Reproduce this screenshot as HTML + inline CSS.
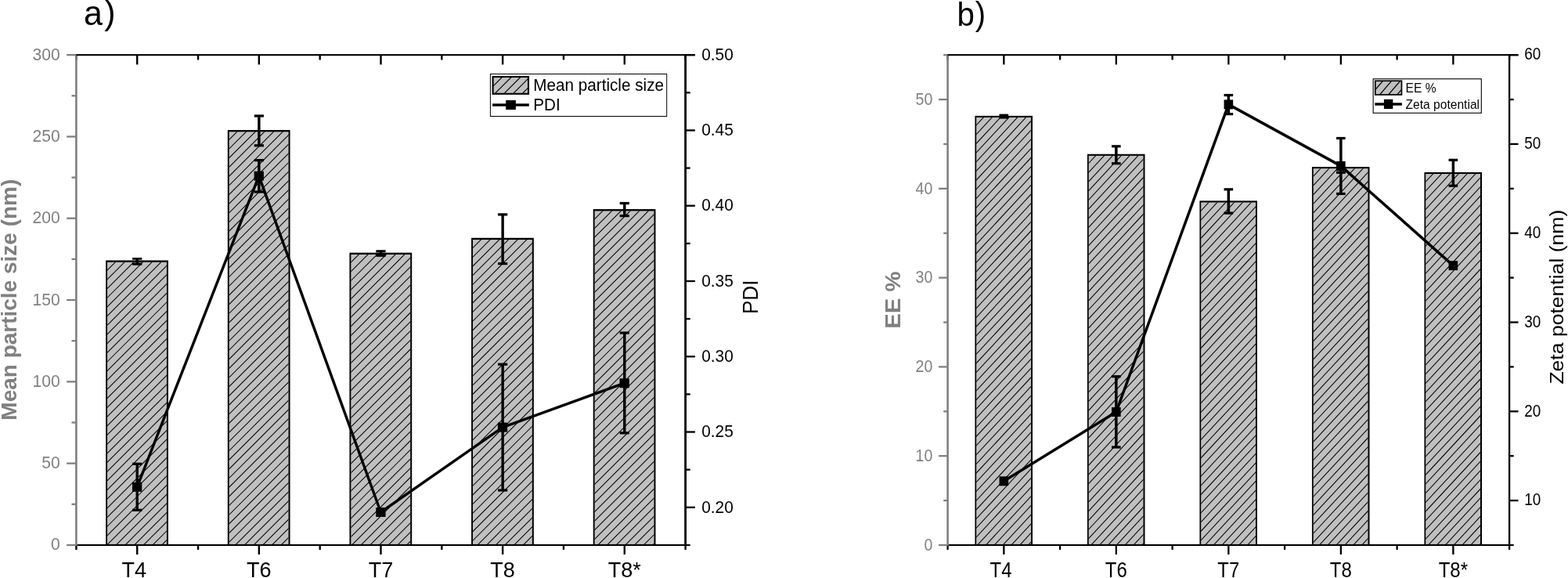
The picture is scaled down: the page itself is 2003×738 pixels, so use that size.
<!DOCTYPE html>
<html lang="en">
<head>
<meta charset="utf-8">
<title>Figure: particle size, PDI, EE % and zeta potential</title>
<style>
html,body{margin:0;padding:0;background:#ffffff;}
body{width:2003px;height:738px;overflow:hidden;}
svg{display:block;font-family:'Liberation Sans', sans-serif;}
</style>
</head>
<body>
<svg width="2003" height="738" viewBox="0 0 2003 738">
<rect x="0" y="0" width="2003" height="738" fill="#ffffff"/>
<g id="panel-a">
<rect x="135.17" y="332.45" width="79.75" height="363.5" fill="#000"/>
<rect x="137.07" y="334.75" width="75.85" height="361.2" fill="#c0c0c0"/>
<clipPath id="cha0"><rect x="137.07" y="334.75" width="75.85" height="361.2"/></clipPath>
<path clip-path="url(#cha0)" fill="none" stroke="#000" stroke-width="1.05" d="M136.07 334.33L213.92 256.48M136.07 346.01L213.92 268.16M136.07 357.69L213.92 279.84M136.07 369.37L213.92 291.52M136.07 381.05L213.92 303.2M136.07 392.73L213.92 314.88M136.07 404.41L213.92 326.56M136.07 416.09L213.92 338.24M136.07 427.77L213.92 349.92M136.07 439.45L213.92 361.6M136.07 451.13L213.92 373.28M136.07 462.81L213.92 384.96M136.07 474.49L213.92 396.64M136.07 486.17L213.92 408.32M136.07 497.85L213.92 420M136.07 509.53L213.92 431.68M136.07 521.21L213.92 443.36M136.07 532.89L213.92 455.04M136.07 544.57L213.92 466.72M136.07 556.25L213.92 478.4M136.07 567.93L213.92 490.08M136.07 579.61L213.92 501.76M136.07 591.29L213.92 513.44M136.07 602.97L213.92 525.12M136.07 614.65L213.92 536.8M136.07 626.33L213.92 548.48M136.07 638.01L213.92 560.16M136.07 649.69L213.92 571.84M136.07 661.37L213.92 583.52M136.07 673.05L213.92 595.2M136.07 684.73L213.92 606.88M136.07 696.41L213.92 618.56M136.07 708.09L213.92 630.24M136.07 719.77L213.92 641.92M136.07 731.45L213.92 653.6M136.07 743.13L213.92 665.28M136.07 754.81L213.92 676.96M136.07 766.49L213.92 688.64"/>
<rect x="290.81" y="166" width="79.75" height="529.95" fill="#000"/>
<rect x="292.71" y="168.3" width="75.85" height="527.65" fill="#c0c0c0"/>
<clipPath id="cha1"><rect x="292.71" y="168.3" width="75.85" height="527.65"/></clipPath>
<path clip-path="url(#cha1)" fill="none" stroke="#000" stroke-width="1.05" d="M291.71 167.61L369.56 89.76M291.71 179.29L369.56 101.44M291.71 190.97L369.56 113.12M291.71 202.65L369.56 124.8M291.71 214.33L369.56 136.48M291.71 226.01L369.56 148.16M291.71 237.69L369.56 159.84M291.71 249.37L369.56 171.52M291.71 261.05L369.56 183.2M291.71 272.73L369.56 194.88M291.71 284.41L369.56 206.56M291.71 296.09L369.56 218.24M291.71 307.77L369.56 229.92M291.71 319.45L369.56 241.6M291.71 331.13L369.56 253.28M291.71 342.81L369.56 264.96M291.71 354.49L369.56 276.64M291.71 366.17L369.56 288.32M291.71 377.85L369.56 300M291.71 389.53L369.56 311.68M291.71 401.21L369.56 323.36M291.71 412.89L369.56 335.04M291.71 424.57L369.56 346.72M291.71 436.25L369.56 358.4M291.71 447.93L369.56 370.08M291.71 459.61L369.56 381.76M291.71 471.29L369.56 393.44M291.71 482.97L369.56 405.12M291.71 494.65L369.56 416.8M291.71 506.33L369.56 428.48M291.71 518.01L369.56 440.16M291.71 529.69L369.56 451.84M291.71 541.37L369.56 463.52M291.71 553.05L369.56 475.2M291.71 564.73L369.56 486.88M291.71 576.41L369.56 498.56M291.71 588.09L369.56 510.24M291.71 599.77L369.56 521.92M291.71 611.45L369.56 533.6M291.71 623.13L369.56 545.28M291.71 634.81L369.56 556.96M291.71 646.49L369.56 568.64M291.71 658.17L369.56 580.32M291.71 669.85L369.56 592M291.71 681.53L369.56 603.68M291.71 693.21L369.56 615.36M291.71 704.89L369.56 627.04M291.71 716.57L369.56 638.72M291.71 728.25L369.56 650.4M291.71 739.93L369.56 662.08M291.71 751.61L369.56 673.76M291.71 763.29L369.56 685.44"/>
<rect x="446.45" y="322.65" width="79.75" height="373.3" fill="#000"/>
<rect x="448.35" y="324.95" width="75.85" height="371" fill="#c0c0c0"/>
<clipPath id="cha2"><rect x="448.35" y="324.95" width="75.85" height="371"/></clipPath>
<path clip-path="url(#cha2)" fill="none" stroke="#000" stroke-width="1.05" d="M447.35 324.23L525.2 246.38M447.35 335.91L525.2 258.06M447.35 347.59L525.2 269.74M447.35 359.27L525.2 281.42M447.35 370.95L525.2 293.1M447.35 382.63L525.2 304.78M447.35 394.31L525.2 316.46M447.35 405.99L525.2 328.14M447.35 417.67L525.2 339.82M447.35 429.35L525.2 351.5M447.35 441.03L525.2 363.18M447.35 452.71L525.2 374.86M447.35 464.39L525.2 386.54M447.35 476.07L525.2 398.22M447.35 487.75L525.2 409.9M447.35 499.43L525.2 421.58M447.35 511.11L525.2 433.26M447.35 522.79L525.2 444.94M447.35 534.47L525.2 456.62M447.35 546.15L525.2 468.3M447.35 557.83L525.2 479.98M447.35 569.51L525.2 491.66M447.35 581.19L525.2 503.34M447.35 592.87L525.2 515.02M447.35 604.55L525.2 526.7M447.35 616.23L525.2 538.38M447.35 627.91L525.2 550.06M447.35 639.59L525.2 561.74M447.35 651.27L525.2 573.42M447.35 662.95L525.2 585.1M447.35 674.63L525.2 596.78M447.35 686.31L525.2 608.46M447.35 697.99L525.2 620.14M447.35 709.67L525.2 631.82M447.35 721.35L525.2 643.5M447.35 733.03L525.2 655.18M447.35 744.71L525.2 666.86M447.35 756.39L525.2 678.54M447.35 768.07L525.2 690.22"/>
<rect x="602.09" y="303.75" width="79.75" height="392.2" fill="#000"/>
<rect x="603.99" y="306.05" width="75.85" height="389.9" fill="#c0c0c0"/>
<clipPath id="cha3"><rect x="603.99" y="306.05" width="75.85" height="389.9"/></clipPath>
<path clip-path="url(#cha3)" fill="none" stroke="#000" stroke-width="1.05" d="M602.99 305.77L680.84 227.92M602.99 317.45L680.84 239.6M602.99 329.13L680.84 251.28M602.99 340.81L680.84 262.96M602.99 352.49L680.84 274.64M602.99 364.17L680.84 286.32M602.99 375.85L680.84 298M602.99 387.53L680.84 309.68M602.99 399.21L680.84 321.36M602.99 410.89L680.84 333.04M602.99 422.57L680.84 344.72M602.99 434.25L680.84 356.4M602.99 445.93L680.84 368.08M602.99 457.61L680.84 379.76M602.99 469.29L680.84 391.44M602.99 480.97L680.84 403.12M602.99 492.65L680.84 414.8M602.99 504.33L680.84 426.48M602.99 516.01L680.84 438.16M602.99 527.69L680.84 449.84M602.99 539.37L680.84 461.52M602.99 551.05L680.84 473.2M602.99 562.73L680.84 484.88M602.99 574.41L680.84 496.56M602.99 586.09L680.84 508.24M602.99 597.77L680.84 519.92M602.99 609.45L680.84 531.6M602.99 621.13L680.84 543.28M602.99 632.81L680.84 554.96M602.99 644.49L680.84 566.64M602.99 656.17L680.84 578.32M602.99 667.85L680.84 590M602.99 679.53L680.84 601.68M602.99 691.21L680.84 613.36M602.99 702.89L680.84 625.04M602.99 714.57L680.84 636.72M602.99 726.25L680.84 648.4M602.99 737.93L680.84 660.08M602.99 749.61L680.84 671.76M602.99 761.29L680.84 683.44M602.99 772.97L680.84 695.12"/>
<rect x="757.73" y="267.05" width="79.75" height="428.9" fill="#000"/>
<rect x="759.63" y="269.35" width="75.85" height="426.6" fill="#c0c0c0"/>
<clipPath id="cha4"><rect x="759.63" y="269.35" width="75.85" height="426.6"/></clipPath>
<path clip-path="url(#cha4)" fill="none" stroke="#000" stroke-width="1.05" d="M758.63 268.93L836.48 191.08M758.63 280.61L836.48 202.76M758.63 292.29L836.48 214.44M758.63 303.97L836.48 226.12M758.63 315.65L836.48 237.8M758.63 327.33L836.48 249.48M758.63 339.01L836.48 261.16M758.63 350.69L836.48 272.84M758.63 362.37L836.48 284.52M758.63 374.05L836.48 296.2M758.63 385.73L836.48 307.88M758.63 397.41L836.48 319.56M758.63 409.09L836.48 331.24M758.63 420.77L836.48 342.92M758.63 432.45L836.48 354.6M758.63 444.13L836.48 366.28M758.63 455.81L836.48 377.96M758.63 467.49L836.48 389.64M758.63 479.17L836.48 401.32M758.63 490.85L836.48 413M758.63 502.53L836.48 424.68M758.63 514.21L836.48 436.36M758.63 525.89L836.48 448.04M758.63 537.57L836.48 459.72M758.63 549.25L836.48 471.4M758.63 560.93L836.48 483.08M758.63 572.61L836.48 494.76M758.63 584.29L836.48 506.44M758.63 595.97L836.48 518.12M758.63 607.65L836.48 529.8M758.63 619.33L836.48 541.48M758.63 631.01L836.48 553.16M758.63 642.69L836.48 564.84M758.63 654.37L836.48 576.52M758.63 666.05L836.48 588.2M758.63 677.73L836.48 599.88M758.63 689.41L836.48 611.56M758.63 701.09L836.48 623.24M758.63 712.77L836.48 634.92M758.63 724.45L836.48 646.6M758.63 736.13L836.48 658.28M758.63 747.81L836.48 669.96M758.63 759.49L836.48 681.64M758.63 771.17L836.48 693.32"/>
<rect x="173.52" y="330.35" width="3.4" height="6.75" fill="#000"/>
<rect x="169.12" y="329" width="12.2" height="2.7" fill="#000"/>
<rect x="169.12" y="335.5" width="12.2" height="3.2" fill="#000"/>
<rect x="329.16" y="148" width="3.4" height="37.8" fill="#000"/>
<rect x="324.76" y="146.4" width="12.2" height="3.2" fill="#000"/>
<rect x="324.76" y="184.2" width="12.2" height="3.2" fill="#000"/>
<rect x="484.8" y="320.75" width="3.4" height="5.55" fill="#000"/>
<rect x="480.4" y="319.2" width="12.2" height="3.1" fill="#000"/>
<rect x="480.4" y="324.75" width="12.2" height="3.1" fill="#000"/>
<rect x="640.44" y="273.9" width="3.4" height="62.7" fill="#000"/>
<rect x="636.04" y="272.3" width="12.2" height="3.2" fill="#000"/>
<rect x="636.04" y="335" width="12.2" height="3.2" fill="#000"/>
<rect x="796.08" y="259.5" width="3.4" height="16.1" fill="#000"/>
<rect x="791.68" y="257.9" width="12.2" height="3.2" fill="#000"/>
<rect x="791.68" y="274" width="12.2" height="3.2" fill="#000"/>
<rect x="96.1" y="69.1" width="791.8" height="2.1" fill="#000"/>
<rect x="96.1" y="694.9" width="785.6" height="2.1" fill="#000"/>
<rect x="874.2" y="69.1" width="2.8" height="627.9" fill="#000"/>
<rect x="875.6" y="646.66" width="12.3" height="2.3" fill="#000"/>
<rect x="875.6" y="598.52" width="6.1" height="2.3" fill="#000"/>
<rect x="875.6" y="550.38" width="12.3" height="2.3" fill="#000"/>
<rect x="875.6" y="502.25" width="6.1" height="2.3" fill="#000"/>
<rect x="875.6" y="454.11" width="12.3" height="2.3" fill="#000"/>
<rect x="875.6" y="405.97" width="6.1" height="2.3" fill="#000"/>
<rect x="875.6" y="357.83" width="12.3" height="2.3" fill="#000"/>
<rect x="875.6" y="309.69" width="6.1" height="2.3" fill="#000"/>
<rect x="875.6" y="261.55" width="12.3" height="2.3" fill="#000"/>
<rect x="875.6" y="213.42" width="6.1" height="2.3" fill="#000"/>
<rect x="875.6" y="165.28" width="12.3" height="2.3" fill="#000"/>
<rect x="875.6" y="117.14" width="6.1" height="2.3" fill="#000"/>
<rect x="875.6" y="69" width="12.3" height="2.3" fill="#000"/>
<rect x="96.2" y="70.15" width="2.4" height="6.3" fill="#000"/>
<rect x="96.2" y="695.95" width="2.4" height="6" fill="#000"/>
<rect x="251.84" y="70.15" width="2.4" height="6.3" fill="#000"/>
<rect x="251.84" y="695.95" width="2.4" height="6" fill="#000"/>
<rect x="407.48" y="70.15" width="2.4" height="6.3" fill="#000"/>
<rect x="407.48" y="695.95" width="2.4" height="6" fill="#000"/>
<rect x="563.12" y="70.15" width="2.4" height="6.3" fill="#000"/>
<rect x="563.12" y="695.95" width="2.4" height="6" fill="#000"/>
<rect x="718.76" y="70.15" width="2.4" height="6.3" fill="#000"/>
<rect x="718.76" y="695.95" width="2.4" height="6" fill="#000"/>
<rect x="874.4" y="70.15" width="2.4" height="6.3" fill="#000"/>
<rect x="874.4" y="695.95" width="2.4" height="6" fill="#000"/>
<rect x="174.02" y="70.15" width="2.4" height="12.3" fill="#000"/>
<rect x="174.02" y="695.95" width="2.4" height="12" fill="#000"/>
<rect x="329.66" y="70.15" width="2.4" height="12.3" fill="#000"/>
<rect x="329.66" y="695.95" width="2.4" height="12" fill="#000"/>
<rect x="485.3" y="70.15" width="2.4" height="12.3" fill="#000"/>
<rect x="485.3" y="695.95" width="2.4" height="12" fill="#000"/>
<rect x="640.94" y="70.15" width="2.4" height="12.3" fill="#000"/>
<rect x="640.94" y="695.95" width="2.4" height="12" fill="#000"/>
<rect x="796.58" y="70.15" width="2.4" height="12.3" fill="#000"/>
<rect x="796.58" y="695.95" width="2.4" height="12" fill="#000"/>
<rect x="96.1" y="71.2" width="2.6" height="625.6" fill="#808080"/>
<rect x="85.2" y="694.8" width="12.2" height="2.3" fill="#808080"/>
<rect x="91.5" y="642.65" width="5.9" height="2.3" fill="#808080"/>
<rect x="85.2" y="590.5" width="12.2" height="2.3" fill="#808080"/>
<rect x="91.5" y="538.35" width="5.9" height="2.3" fill="#808080"/>
<rect x="85.2" y="486.2" width="12.2" height="2.3" fill="#808080"/>
<rect x="91.5" y="434.05" width="5.9" height="2.3" fill="#808080"/>
<rect x="85.2" y="381.9" width="12.2" height="2.3" fill="#808080"/>
<rect x="91.5" y="329.75" width="5.9" height="2.3" fill="#808080"/>
<rect x="85.2" y="277.6" width="12.2" height="2.3" fill="#808080"/>
<rect x="91.5" y="225.45" width="5.9" height="2.3" fill="#808080"/>
<rect x="85.2" y="173.3" width="12.2" height="2.3" fill="#808080"/>
<rect x="91.5" y="121.15" width="5.9" height="2.3" fill="#808080"/>
<rect x="85.2" y="69" width="12.2" height="2.3" fill="#808080"/>
<polyline fill="none" stroke="#000" stroke-width="3.45" stroke-linejoin="round" points="175.12,621.8 330.76,224.7 486.4,654 642.04,545.6 797.68,489.2"/>
<rect x="173.52" y="592.3" width="3.4" height="59" fill="#000"/>
<rect x="169.12" y="590.7" width="12.2" height="3.2" fill="#000"/>
<rect x="169.12" y="649.7" width="12.2" height="3.2" fill="#000"/>
<rect x="329.16" y="204.6" width="3.4" height="40.4" fill="#000"/>
<rect x="324.76" y="203" width="12.2" height="3.2" fill="#000"/>
<rect x="324.76" y="243.4" width="12.2" height="3.2" fill="#000"/>
<rect x="640.44" y="465.2" width="3.4" height="160.8" fill="#000"/>
<rect x="636.04" y="463.6" width="12.2" height="3.2" fill="#000"/>
<rect x="636.04" y="624.4" width="12.2" height="3.2" fill="#000"/>
<rect x="796.08" y="425" width="3.4" height="127.8" fill="#000"/>
<rect x="791.68" y="423.4" width="12.2" height="3.2" fill="#000"/>
<rect x="791.68" y="551.2" width="12.2" height="3.2" fill="#000"/>
<rect x="168.97" y="615.8" width="12.3" height="12" fill="#000"/>
<rect x="324.61" y="218.7" width="12.3" height="12" fill="#000"/>
<rect x="480.25" y="648" width="12.3" height="12" fill="#000"/>
<rect x="635.89" y="539.6" width="12.3" height="12" fill="#000"/>
<rect x="791.53" y="483.2" width="12.3" height="12" fill="#000"/>
<text transform="translate(76.85 702.45) scale(1.025 1.07)" font-size="20.6" text-anchor="end" fill="#808080">0</text>
<text transform="translate(76.85 598.15) scale(1.025 1.07)" font-size="20.6" text-anchor="end" fill="#808080">50</text>
<text transform="translate(76.85 493.85) scale(1.025 1.07)" font-size="20.6" text-anchor="end" fill="#808080">100</text>
<text transform="translate(76.85 389.55) scale(1.025 1.07)" font-size="20.6" text-anchor="end" fill="#808080">150</text>
<text transform="translate(76.85 285.25) scale(1.025 1.07)" font-size="20.6" text-anchor="end" fill="#808080">200</text>
<text transform="translate(76.85 180.95) scale(1.025 1.07)" font-size="20.6" text-anchor="end" fill="#808080">250</text>
<text transform="translate(76.85 76.65) scale(1.025 1.07)" font-size="20.6" text-anchor="end" fill="#808080">300</text>
<text transform="translate(896.2 654.56) scale(1.013 1.07)" font-size="20.6">0.20</text>
<text transform="translate(896.2 558.28) scale(1.013 1.07)" font-size="20.6">0.25</text>
<text transform="translate(896.2 462.01) scale(1.013 1.07)" font-size="20.6">0.30</text>
<text transform="translate(896.2 365.73) scale(1.013 1.07)" font-size="20.6">0.35</text>
<text transform="translate(896.2 269.45) scale(1.013 1.07)" font-size="20.6">0.40</text>
<text transform="translate(896.2 173.18) scale(1.013 1.07)" font-size="20.6">0.45</text>
<text transform="translate(896.2 76.9) scale(1.013 1.07)" font-size="20.6">0.50</text>
<text transform="translate(171.22 737.2) scale(1.022 1.055)" font-size="26.5" text-anchor="middle">T4</text>
<text transform="translate(330.86 737.2) scale(1.022 1.055)" font-size="26.5" text-anchor="middle">T6</text>
<text transform="translate(486.5 737.2) scale(1.022 1.055)" font-size="26.5" text-anchor="middle">T7</text>
<text transform="translate(642.14 737.2) scale(1.022 1.055)" font-size="26.5" text-anchor="middle">T8</text>
<text transform="translate(797.78 737.2) scale(1.022 1.055)" font-size="26.5" text-anchor="middle">T8*</text>
</g>
<g id="panel-b">
<rect x="1245.45" y="147.85" width="73.55" height="548.1" fill="#000"/>
<rect x="1247.2" y="149.95" width="69.8" height="546" fill="#c0c0c0"/>
<clipPath id="chb0"><rect x="1247.2" y="149.95" width="69.8" height="546"/></clipPath>
<path clip-path="url(#chb0)" fill="none" stroke="#000" stroke-width="1.05" d="M1246.2 149.15L1318 71.73M1246.2 160.84L1318 83.42M1246.2 172.53L1318 95.11M1246.2 184.22L1318 106.8M1246.2 195.9L1318 118.49M1246.2 207.59L1318 130.17M1246.2 219.28L1318 141.86M1246.2 230.97L1318 153.55M1246.2 242.66L1318 165.24M1246.2 254.34L1318 176.93M1246.2 266.03L1318 188.61M1246.2 277.72L1318 200.3M1246.2 289.41L1318 211.99M1246.2 301.1L1318 223.68M1246.2 312.78L1318 235.37M1246.2 324.47L1318 247.05M1246.2 336.16L1318 258.74M1246.2 347.85L1318 270.43M1246.2 359.54L1318 282.12M1246.2 371.22L1318 293.81M1246.2 382.91L1318 305.49M1246.2 394.6L1318 317.18M1246.2 406.29L1318 328.87M1246.2 417.98L1318 340.56M1246.2 429.66L1318 352.25M1246.2 441.35L1318 363.93M1246.2 453.04L1318 375.62M1246.2 464.73L1318 387.31M1246.2 476.42L1318 399M1246.2 488.1L1318 410.69M1246.2 499.79L1318 422.37M1246.2 511.48L1318 434.06M1246.2 523.17L1318 445.75M1246.2 534.86L1318 457.44M1246.2 546.54L1318 469.13M1246.2 558.23L1318 480.81M1246.2 569.92L1318 492.5M1246.2 581.61L1318 504.19M1246.2 593.3L1318 515.88M1246.2 604.98L1318 527.57M1246.2 616.67L1318 539.25M1246.2 628.36L1318 550.94M1246.2 640.05L1318 562.63M1246.2 651.74L1318 574.32M1246.2 663.42L1318 586.01M1246.2 675.11L1318 597.69M1246.2 686.8L1318 609.38M1246.2 698.49L1318 621.07M1246.2 710.18L1318 632.76M1246.2 721.86L1318 644.45M1246.2 733.55L1318 656.13M1246.2 745.24L1318 667.82M1246.2 756.93L1318 679.51M1246.2 768.62L1318 691.2"/>
<rect x="1388.95" y="196.75" width="73.55" height="499.2" fill="#000"/>
<rect x="1390.7" y="198.85" width="69.8" height="497.1" fill="#c0c0c0"/>
<clipPath id="chb1"><rect x="1390.7" y="198.85" width="69.8" height="497.1"/></clipPath>
<path clip-path="url(#chb1)" fill="none" stroke="#000" stroke-width="1.05" d="M1389.7 209.49L1461.5 132.07M1389.7 221.18L1461.5 143.76M1389.7 232.87L1461.5 155.45M1389.7 244.55L1461.5 167.14M1389.7 256.24L1461.5 178.82M1389.7 267.93L1461.5 190.51M1389.7 279.62L1461.5 202.2M1389.7 291.31L1461.5 213.89M1389.7 302.99L1461.5 225.58M1389.7 314.68L1461.5 237.26M1389.7 326.37L1461.5 248.95M1389.7 338.06L1461.5 260.64M1389.7 349.75L1461.5 272.33M1389.7 361.43L1461.5 284.02M1389.7 373.12L1461.5 295.7M1389.7 384.81L1461.5 307.39M1389.7 396.5L1461.5 319.08M1389.7 408.19L1461.5 330.77M1389.7 419.87L1461.5 342.46M1389.7 431.56L1461.5 354.14M1389.7 443.25L1461.5 365.83M1389.7 454.94L1461.5 377.52M1389.7 466.63L1461.5 389.21M1389.7 478.31L1461.5 400.9M1389.7 490L1461.5 412.58M1389.7 501.69L1461.5 424.27M1389.7 513.38L1461.5 435.96M1389.7 525.07L1461.5 447.65M1389.7 536.75L1461.5 459.34M1389.7 548.44L1461.5 471.02M1389.7 560.13L1461.5 482.71M1389.7 571.82L1461.5 494.4M1389.7 583.51L1461.5 506.09M1389.7 595.19L1461.5 517.78M1389.7 606.88L1461.5 529.46M1389.7 618.57L1461.5 541.15M1389.7 630.26L1461.5 552.84M1389.7 641.95L1461.5 564.53M1389.7 653.63L1461.5 576.22M1389.7 665.32L1461.5 587.9M1389.7 677.01L1461.5 599.59M1389.7 688.7L1461.5 611.28M1389.7 700.39L1461.5 622.97M1389.7 712.07L1461.5 634.66M1389.7 723.76L1461.5 646.34M1389.7 735.45L1461.5 658.03M1389.7 747.14L1461.5 669.72M1389.7 758.83L1461.5 681.41M1389.7 770.51L1461.5 693.1"/>
<rect x="1532.45" y="256.35" width="73.55" height="439.6" fill="#000"/>
<rect x="1534.2" y="258.45" width="69.8" height="437.5" fill="#c0c0c0"/>
<clipPath id="chb2"><rect x="1534.2" y="258.45" width="69.8" height="437.5"/></clipPath>
<path clip-path="url(#chb2)" fill="none" stroke="#000" stroke-width="1.05" d="M1533.2 258.47L1605 181.06M1533.2 270.16L1605 192.74M1533.2 281.85L1605 204.43M1533.2 293.54L1605 216.12M1533.2 305.23L1605 227.81M1533.2 316.91L1605 239.5M1533.2 328.6L1605 251.18M1533.2 340.29L1605 262.87M1533.2 351.98L1605 274.56M1533.2 363.67L1605 286.25M1533.2 375.35L1605 297.94M1533.2 387.04L1605 309.62M1533.2 398.73L1605 321.31M1533.2 410.42L1605 333M1533.2 422.11L1605 344.69M1533.2 433.79L1605 356.38M1533.2 445.48L1605 368.06M1533.2 457.17L1605 379.75M1533.2 468.86L1605 391.44M1533.2 480.55L1605 403.13M1533.2 492.23L1605 414.82M1533.2 503.92L1605 426.5M1533.2 515.61L1605 438.19M1533.2 527.3L1605 449.88M1533.2 538.99L1605 461.57M1533.2 550.67L1605 473.26M1533.2 562.36L1605 484.94M1533.2 574.05L1605 496.63M1533.2 585.74L1605 508.32M1533.2 597.43L1605 520.01M1533.2 609.11L1605 531.7M1533.2 620.8L1605 543.38M1533.2 632.49L1605 555.07M1533.2 644.18L1605 566.76M1533.2 655.87L1605 578.45M1533.2 667.55L1605 590.14M1533.2 679.24L1605 601.82M1533.2 690.93L1605 613.51M1533.2 702.62L1605 625.2M1533.2 714.31L1605 636.89M1533.2 725.99L1605 648.58M1533.2 737.68L1605 660.26M1533.2 749.37L1605 671.95M1533.2 761.06L1605 683.64M1533.2 772.75L1605 695.33"/>
<rect x="1675.95" y="213.05" width="73.55" height="482.9" fill="#000"/>
<rect x="1677.7" y="215.15" width="69.8" height="480.8" fill="#c0c0c0"/>
<clipPath id="chb3"><rect x="1677.7" y="215.15" width="69.8" height="480.8"/></clipPath>
<path clip-path="url(#chb3)" fill="none" stroke="#000" stroke-width="1.05" d="M1676.7 214.48L1748.5 137.06M1676.7 226.17L1748.5 148.75M1676.7 237.86L1748.5 160.44M1676.7 249.55L1748.5 172.13M1676.7 261.23L1748.5 183.82M1676.7 272.92L1748.5 195.5M1676.7 284.61L1748.5 207.19M1676.7 296.3L1748.5 218.88M1676.7 307.99L1748.5 230.57M1676.7 319.67L1748.5 242.26M1676.7 331.36L1748.5 253.94M1676.7 343.05L1748.5 265.63M1676.7 354.74L1748.5 277.32M1676.7 366.43L1748.5 289.01M1676.7 378.11L1748.5 300.7M1676.7 389.8L1748.5 312.38M1676.7 401.49L1748.5 324.07M1676.7 413.18L1748.5 335.76M1676.7 424.87L1748.5 347.45M1676.7 436.55L1748.5 359.14M1676.7 448.24L1748.5 370.82M1676.7 459.93L1748.5 382.51M1676.7 471.62L1748.5 394.2M1676.7 483.31L1748.5 405.89M1676.7 494.99L1748.5 417.58M1676.7 506.68L1748.5 429.26M1676.7 518.37L1748.5 440.95M1676.7 530.06L1748.5 452.64M1676.7 541.75L1748.5 464.33M1676.7 553.43L1748.5 476.02M1676.7 565.12L1748.5 487.7M1676.7 576.81L1748.5 499.39M1676.7 588.5L1748.5 511.08M1676.7 600.19L1748.5 522.77M1676.7 611.87L1748.5 534.46M1676.7 623.56L1748.5 546.14M1676.7 635.25L1748.5 557.83M1676.7 646.94L1748.5 569.52M1676.7 658.63L1748.5 581.21M1676.7 670.31L1748.5 592.9M1676.7 682L1748.5 604.58M1676.7 693.69L1748.5 616.27M1676.7 705.38L1748.5 627.96M1676.7 717.07L1748.5 639.65M1676.7 728.75L1748.5 651.34M1676.7 740.44L1748.5 663.02M1676.7 752.13L1748.5 674.71M1676.7 763.82L1748.5 686.4"/>
<rect x="1819.45" y="219.95" width="73.55" height="476" fill="#000"/>
<rect x="1821.2" y="222.05" width="69.8" height="473.9" fill="#c0c0c0"/>
<clipPath id="chb4"><rect x="1821.2" y="222.05" width="69.8" height="473.9"/></clipPath>
<path clip-path="url(#chb4)" fill="none" stroke="#000" stroke-width="1.05" d="M1820.2 221.51L1892 144.09M1820.2 233.2L1892 155.78M1820.2 244.89L1892 167.47M1820.2 256.58L1892 179.16M1820.2 268.26L1892 190.85M1820.2 279.95L1892 202.53M1820.2 291.64L1892 214.22M1820.2 303.33L1892 225.91M1820.2 315.02L1892 237.6M1820.2 326.7L1892 249.29M1820.2 338.39L1892 260.97M1820.2 350.08L1892 272.66M1820.2 361.77L1892 284.35M1820.2 373.46L1892 296.04M1820.2 385.14L1892 307.73M1820.2 396.83L1892 319.41M1820.2 408.52L1892 331.1M1820.2 420.21L1892 342.79M1820.2 431.9L1892 354.48M1820.2 443.58L1892 366.17M1820.2 455.27L1892 377.85M1820.2 466.96L1892 389.54M1820.2 478.65L1892 401.23M1820.2 490.34L1892 412.92M1820.2 502.02L1892 424.61M1820.2 513.71L1892 436.29M1820.2 525.4L1892 447.98M1820.2 537.09L1892 459.67M1820.2 548.78L1892 471.36M1820.2 560.46L1892 483.05M1820.2 572.15L1892 494.73M1820.2 583.84L1892 506.42M1820.2 595.53L1892 518.11M1820.2 607.22L1892 529.8M1820.2 618.9L1892 541.49M1820.2 630.59L1892 553.17M1820.2 642.28L1892 564.86M1820.2 653.97L1892 576.55M1820.2 665.66L1892 588.24M1820.2 677.34L1892 599.93M1820.2 689.03L1892 611.61M1820.2 700.72L1892 623.3M1820.2 712.41L1892 634.99M1820.2 724.1L1892 646.68M1820.2 735.78L1892 658.37M1820.2 747.47L1892 670.05M1820.2 759.16L1892 681.74M1820.2 770.85L1892 693.43"/>
<rect x="1280.6" y="147.2" width="3.5" height="2.8" fill="#000"/>
<rect x="1276.55" y="145.6" width="11.6" height="3.2" fill="#000"/>
<rect x="1276.55" y="148.4" width="11.6" height="3.2" fill="#000"/>
<rect x="1424.1" y="186.8" width="3.5" height="21.9" fill="#000"/>
<rect x="1420.05" y="185.2" width="11.6" height="3.2" fill="#000"/>
<rect x="1420.05" y="207.1" width="11.6" height="3.2" fill="#000"/>
<rect x="1567.6" y="241.8" width="3.5" height="30.3" fill="#000"/>
<rect x="1563.55" y="240.2" width="11.6" height="3.2" fill="#000"/>
<rect x="1563.55" y="270.5" width="11.6" height="3.2" fill="#000"/>
<rect x="1711.1" y="220.2" width="3.5" height="0" fill="#000"/>
<rect x="1707.05" y="218.75" width="11.6" height="2.9" fill="#000"/>
<rect x="1707.05" y="218.75" width="11.6" height="2.9" fill="#000"/>
<rect x="1854.6" y="204.3" width="3.5" height="32.9" fill="#000"/>
<rect x="1850.55" y="202.7" width="11.6" height="3.2" fill="#000"/>
<rect x="1850.55" y="235.6" width="11.6" height="3.2" fill="#000"/>
<rect x="1209.3" y="69.1" width="730.2" height="2.1" fill="#000"/>
<rect x="1209.3" y="694.9" width="724.4" height="2.1" fill="#000"/>
<rect x="1926.95" y="69.1" width="2.3" height="627.9" fill="#000"/>
<rect x="1928.1" y="637.91" width="11.4" height="2.3" fill="#000"/>
<rect x="1928.1" y="581.02" width="5.6" height="2.3" fill="#000"/>
<rect x="1928.1" y="524.13" width="11.4" height="2.3" fill="#000"/>
<rect x="1928.1" y="467.24" width="5.6" height="2.3" fill="#000"/>
<rect x="1928.1" y="410.35" width="11.4" height="2.3" fill="#000"/>
<rect x="1928.1" y="353.45" width="5.6" height="2.3" fill="#000"/>
<rect x="1928.1" y="296.56" width="11.4" height="2.3" fill="#000"/>
<rect x="1928.1" y="239.67" width="5.6" height="2.3" fill="#000"/>
<rect x="1928.1" y="182.78" width="11.4" height="2.3" fill="#000"/>
<rect x="1928.1" y="125.89" width="5.6" height="2.3" fill="#000"/>
<rect x="1928.1" y="69" width="11.4" height="2.3" fill="#000"/>
<rect x="1209.45" y="70.15" width="2.3" height="6.3" fill="#000"/>
<rect x="1209.45" y="695.95" width="2.3" height="6" fill="#000"/>
<rect x="1352.95" y="70.15" width="2.3" height="6.3" fill="#000"/>
<rect x="1352.95" y="695.95" width="2.3" height="6" fill="#000"/>
<rect x="1496.45" y="70.15" width="2.3" height="6.3" fill="#000"/>
<rect x="1496.45" y="695.95" width="2.3" height="6" fill="#000"/>
<rect x="1639.95" y="70.15" width="2.3" height="6.3" fill="#000"/>
<rect x="1639.95" y="695.95" width="2.3" height="6" fill="#000"/>
<rect x="1783.45" y="70.15" width="2.3" height="6.3" fill="#000"/>
<rect x="1783.45" y="695.95" width="2.3" height="6" fill="#000"/>
<rect x="1926.95" y="70.15" width="2.3" height="6.3" fill="#000"/>
<rect x="1926.95" y="695.95" width="2.3" height="6" fill="#000"/>
<rect x="1281.2" y="70.15" width="2.3" height="12.3" fill="#000"/>
<rect x="1281.2" y="695.95" width="2.3" height="12" fill="#000"/>
<rect x="1424.7" y="70.15" width="2.3" height="12.3" fill="#000"/>
<rect x="1424.7" y="695.95" width="2.3" height="12" fill="#000"/>
<rect x="1568.2" y="70.15" width="2.3" height="12.3" fill="#000"/>
<rect x="1568.2" y="695.95" width="2.3" height="12" fill="#000"/>
<rect x="1711.7" y="70.15" width="2.3" height="12.3" fill="#000"/>
<rect x="1711.7" y="695.95" width="2.3" height="12" fill="#000"/>
<rect x="1855.2" y="70.15" width="2.3" height="12.3" fill="#000"/>
<rect x="1855.2" y="695.95" width="2.3" height="12" fill="#000"/>
<rect x="1209.3" y="71.2" width="2.6" height="625.6" fill="#808080"/>
<rect x="1199.1" y="694.8" width="11.5" height="2.3" fill="#808080"/>
<rect x="1205.2" y="637.91" width="5.4" height="2.3" fill="#808080"/>
<rect x="1199.1" y="581.02" width="11.5" height="2.3" fill="#808080"/>
<rect x="1205.2" y="524.13" width="5.4" height="2.3" fill="#808080"/>
<rect x="1199.1" y="467.24" width="11.5" height="2.3" fill="#808080"/>
<rect x="1205.2" y="410.35" width="5.4" height="2.3" fill="#808080"/>
<rect x="1199.1" y="353.45" width="11.5" height="2.3" fill="#808080"/>
<rect x="1205.2" y="296.56" width="5.4" height="2.3" fill="#808080"/>
<rect x="1199.1" y="239.67" width="11.5" height="2.3" fill="#808080"/>
<rect x="1205.2" y="182.78" width="5.4" height="2.3" fill="#808080"/>
<rect x="1199.1" y="125.89" width="11.5" height="2.3" fill="#808080"/>
<rect x="1205.2" y="69" width="5.4" height="2.3" fill="#808080"/>
<polyline fill="none" stroke="#000" stroke-width="3.5" stroke-linejoin="round" points="1282.35,614.3 1425.85,526 1569.35,133.4 1712.85,211.9 1856.35,339.1"/>
<rect x="1424.1" y="480.7" width="3.5" height="90.3" fill="#000"/>
<rect x="1420.05" y="479.1" width="11.6" height="3.2" fill="#000"/>
<rect x="1420.05" y="569.4" width="11.6" height="3.2" fill="#000"/>
<rect x="1567.6" y="121.5" width="3.5" height="24.1" fill="#000"/>
<rect x="1563.55" y="119.9" width="11.6" height="3.2" fill="#000"/>
<rect x="1563.55" y="144" width="11.6" height="3.2" fill="#000"/>
<rect x="1711.1" y="176.5" width="3.5" height="70.9" fill="#000"/>
<rect x="1707.05" y="174.9" width="11.6" height="3.2" fill="#000"/>
<rect x="1707.05" y="245.8" width="11.6" height="3.2" fill="#000"/>
<rect x="1276.55" y="608.3" width="11.6" height="12" fill="#000"/>
<rect x="1420.05" y="520" width="11.6" height="12" fill="#000"/>
<rect x="1563.55" y="127.4" width="11.6" height="12" fill="#000"/>
<rect x="1707.05" y="205.9" width="11.6" height="12" fill="#000"/>
<rect x="1850.55" y="333.1" width="11.6" height="12" fill="#000"/>
<text transform="translate(1191.3 702.65) scale(0.95 1.09)" font-size="20.6" text-anchor="end" fill="#808080">0</text>
<text transform="translate(1191.3 588.87) scale(0.95 1.09)" font-size="20.6" text-anchor="end" fill="#808080">10</text>
<text transform="translate(1191.3 475.09) scale(0.95 1.09)" font-size="20.6" text-anchor="end" fill="#808080">20</text>
<text transform="translate(1191.3 361.3) scale(0.95 1.09)" font-size="20.6" text-anchor="end" fill="#808080">30</text>
<text transform="translate(1191.3 247.52) scale(0.95 1.09)" font-size="20.6" text-anchor="end" fill="#808080">40</text>
<text transform="translate(1191.3 133.74) scale(0.95 1.09)" font-size="20.6" text-anchor="end" fill="#808080">50</text>
<text transform="translate(1947.3 645.31) scale(0.918 1.09)" font-size="20.6">10</text>
<text transform="translate(1947.3 531.53) scale(0.918 1.09)" font-size="20.6">20</text>
<text transform="translate(1947.3 417.75) scale(0.918 1.09)" font-size="20.6">30</text>
<text transform="translate(1947.3 303.96) scale(0.918 1.09)" font-size="20.6">40</text>
<text transform="translate(1947.3 190.18) scale(0.918 1.09)" font-size="20.6">50</text>
<text transform="translate(1947.3 76.4) scale(0.918 1.09)" font-size="20.6">60</text>
<text transform="translate(1278.55 737.2) scale(0.905 1.063)" font-size="26.5" text-anchor="middle">T4</text>
<text transform="translate(1425.85 737.2) scale(0.905 1.063)" font-size="26.5" text-anchor="middle">T6</text>
<text transform="translate(1569.35 737.2) scale(0.905 1.063)" font-size="26.5" text-anchor="middle">T7</text>
<text transform="translate(1712.85 737.2) scale(0.905 1.063)" font-size="26.5" text-anchor="middle">T8</text>
<text transform="translate(1856.35 737.2) scale(0.905 1.063)" font-size="26.5" text-anchor="middle">T8*</text>
</g>
<g id="panel-letters">
<text transform="translate(107.1 31.5) scale(1 1.02)" font-size="43">a<tspan dx="2.3" dy="-0.6">)</tspan></text>
<text transform="translate(1222.6 32.9) scale(0.936 0.985)" font-size="43">b<tspan dx="0.7" dy="-0.5">)</tspan></text>
</g>
<g id="axis-titles">
<text transform="translate(21.2 382.7) rotate(-90) scale(1 1.01)" font-size="28" text-anchor="middle" fill="#808080" font-weight="bold">Mean particle size (nm)</text>
<text transform="translate(967.55 379.3) rotate(-90) scale(1 1.054)" font-size="26.2" text-anchor="middle">PDI</text>
<text transform="translate(1150.05 383.1) rotate(-90) scale(1 0.971)" font-size="29.3" text-anchor="middle" fill="#808080" font-weight="bold">EE %</text>
<text transform="translate(1996.9 379.2) rotate(-90) scale(1 0.93)" font-size="26.57" text-anchor="middle">Zeta potential (nm)</text>
</g>
<g id="legend-a">
<rect x="626.4" y="94.5" width="225.3" height="54" fill="#fff" stroke="#000" stroke-width="1"/>
<rect x="629.6" y="98" width="45.4" height="21.8" fill="#c0c0c0"/>
<clipPath id="chla"><rect x="629.6" y="98" width="45.4" height="21.8"/></clipPath>
<path clip-path="url(#chla)" fill="none" stroke="#000" stroke-width="1.15" d="M628.6 99.65L676 52.25M628.6 111.35L676 63.95M628.6 123.05L676 75.65M628.6 134.75L676 87.35M628.6 146.45L676 99.05M628.6 158.15L676 110.75"/>
<rect x="629.6" y="98" width="45.4" height="21.8" fill="none" stroke="#000" stroke-width="2.1"/>
<rect x="629.1" y="132.3" width="46.7" height="3.4" fill="#000"/>
<rect x="646.2" y="128" width="12.7" height="12" fill="#000"/>
<text transform="translate(681.3 116) scale(1 1.045)" font-size="20.7">Mean particle size</text>
<text transform="translate(681.3 141.2) scale(1 1.045)" font-size="20.7">PDI</text>
</g>
<g id="legend-b">
<rect x="1754.15" y="100.75" width="138.15" height="43.55" fill="#fff" stroke="#000" stroke-width="1.1"/>
<rect x="1756.75" y="103.25" width="33.7" height="17.7" fill="#c0c0c0"/>
<clipPath id="chlb"><rect x="1756.75" y="103.25" width="33.7" height="17.7"/></clipPath>
<path clip-path="url(#chlb)" fill="none" stroke="#000" stroke-width="1.25" d="M1755.75 102.96L1791.45 61.47M1755.75 115.86L1791.45 74.37M1755.75 128.76L1791.45 87.27M1755.75 141.66L1791.45 100.17M1755.75 154.56L1791.45 113.07"/>
<rect x="1756.75" y="103.25" width="33.7" height="17.7" fill="none" stroke="#000" stroke-width="1.7"/>
<rect x="1756.3" y="131.3" width="34.6" height="3.4" fill="#000"/>
<rect x="1767.9" y="126.8" width="11.4" height="12.2" fill="#000"/>
<text transform="translate(1795.6 118) scale(1 1.035)" font-size="15.6">EE %</text>
<text transform="translate(1795.6 138.8) scale(1 1.035)" font-size="15.6">Zeta potential</text>
</g>
</svg>
</body>
</html>
